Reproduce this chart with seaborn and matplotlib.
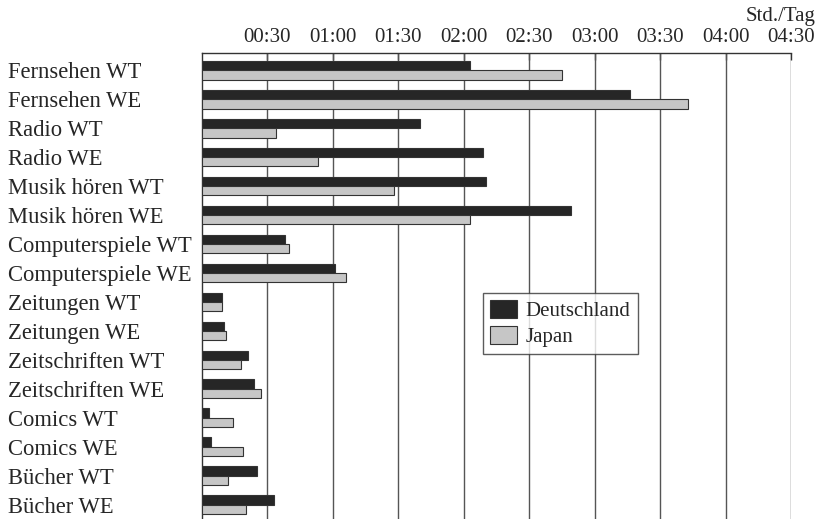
import matplotlib
matplotlib.use("Agg")
import matplotlib.pyplot as plt
import seaborn as sns
import pandas as pd
import numpy as np

categories = ["Fernsehen WT", "Fernsehen WE", "Radio WT", "Radio WE",
              "Musik hören WT", "Musik hören WE", "Computerspiele WT", "Computerspiele WE",
              "Zeitungen WT", "Zeitungen WE", "Zeitschriften WT", "Zeitschriften WE",
              "Comics WT", "Comics WE", "Bücher WT", "Bücher WE"]
# minutes per day
deutschland = [123, 196, 100, 129, 130, 169, 38, 61, 9, 10, 21, 24, 3, 4, 25, 33]
japan = [165, 223, 34, 53, 88, 123, 40, 66, 9, 11, 18, 27, 14, 19, 12, 20]
series = ["Deutschland", "Japan"]
tick_values = [0.5, 1.0, 1.5, 2.0, 2.5, 3.0, 3.5, 4.0, 4.5]
tick_labels = ["00:30", "01:00", "01:30", "02:00", "02:30", "03:00", "03:30", "04:00", "04:30"]

df = pd.DataFrame({
    "Kategorie": categories * 2,
    "Land": [series[0]] * len(categories) + [series[1]] * len(categories),
    "Stunden": [v / 60 for v in deutschland] + [v / 60 for v in japan],
})

sns.set_style("white")
plt.rcParams["font.family"] = ["Liberation Serif", "DejaVu Serif"]

fig = plt.figure(figsize=(8.21, 5.19), dpi=100)
ax = fig.add_axes([202 / 821, 0.0, (791 - 202) / 821, 1 - 53 / 519])

sns.barplot(data=df, y="Kategorie", x="Stunden", hue="Land", orient="h",
            order=categories, hue_order=series,
            palette={"Deutschland": "#262626", "Japan": "#c6c6c6"},
            width=0.64, edgecolor="#333333", linewidth=0.8, ax=ax, zorder=3)

ax.set_xlim(0, 4.5)
ax.set_ylim(15.5, -0.6)
ax.xaxis.tick_top()
ax.set_xticks(tick_values)
ax.set_xticklabels(tick_labels, fontsize=15)
ax.tick_params(axis="x", direction="in", length=5, width=1, color="#333333", pad=4)
ax.set_xlabel("")
ax.set_ylabel("")

for v in tick_values:
    ax.axvline(v, color="#555555", linewidth=1.0, zorder=1)

ax.set_yticks(range(len(categories)))
ax.set_yticklabels(categories, fontsize=16.3)
ax.set_yticks(np.arange(0.5, len(categories) - 0.5, 1), minor=True)
ax.tick_params(axis="y", which="major", length=0, pad=139.5)
ax.tick_params(axis="y", which="minor", length=3, direction="out", color="#333333")
for lab in ax.get_yticklabels():
    lab.set_horizontalalignment("left")

for s in ["right", "bottom"]:
    ax.spines[s].set_visible(False)
ax.spines["top"].set_color("#333333")
ax.spines["left"].set_color("#333333")
ax.spines["top"].set_linewidth(1.0)
ax.spines["left"].set_linewidth(1.0)

leg = ax.legend(loc="upper left", bbox_to_anchor=(0.477, 0.485), fontsize=15,
                frameon=True, fancybox=False, edgecolor="#333333", borderaxespad=0,
                handlelength=1.3, handleheight=0.9, handletextpad=0.4,
                borderpad=0.35, labelspacing=0.25, title=None)
leg.get_frame().set_linewidth(1.0)

fig.text(815 / 821, 1 - 21 / 519, "Std./Tag", ha="right", va="baseline", fontsize=15)

fig.savefig("out.png", dpi=100)
